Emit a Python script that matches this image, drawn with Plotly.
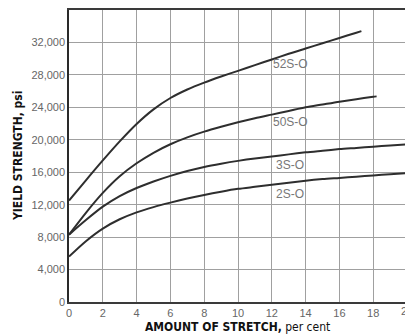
import plotly.graph_objects as go

# ---- data ----
stretch_52s = [0, 1, 2, 3, 4, 5, 6, 7, 8, 9, 10, 11, 12, 13, 14, 15, 16, 17, 17.3]
yield_52s = [12500, 15000, 17450, 19800, 21950, 23750, 25150, 26200, 27050, 27800,
             28500, 29200, 29900, 30600, 31250, 31900, 32550, 33200, 33400]

stretch_50s = [0, 1, 2, 3, 4, 5, 6, 7, 8, 9, 10, 11, 12, 13, 14, 15, 16, 17, 18, 18.2]
yield_50s = [8300, 11000, 13450, 15500, 17100, 18400, 19450, 20300, 21000, 21600,
             22150, 22650, 23100, 23550, 24000, 24350, 24700, 25000, 25300, 25350]

stretch_3s = [0, 1, 2, 3, 4, 5, 6, 7, 8, 9, 10, 11, 12, 13, 14, 15, 16, 17, 18, 19, 20]
yield_3s = [8300, 10100, 11750, 13050, 14050, 14850, 15550, 16150, 16650, 17050,
            17400, 17700, 17950, 18200, 18450, 18650, 18850, 19000, 19150, 19300, 19450]

stretch_2s = [0, 1, 2, 3, 4, 5, 6, 7, 8, 9, 10, 11, 12, 13, 14, 15, 16, 17, 18, 19, 20]
yield_2s = [5600, 7500, 9050, 10200, 11050, 11700, 12250, 12750, 13200, 13600,
            13950, 14200, 14450, 14700, 14950, 15150, 15300, 15450, 15600, 15750, 15900]

curve_names = ["52S-O", "50S-O", "3S-O", "2S-O"]
label_x = [13.1, 13.1, 13.1, 13.1]
label_y = [29400, 22150, 16900, 13350]

x_ticks = [0, 2, 4, 6, 8, 10, 12, 14, 16, 18, 20]
y_ticks = [0, 4000, 8000, 12000, 16000, 20000, 24000, 28000, 32000]

series = [(stretch_52s, yield_52s), (stretch_50s, yield_50s),
          (stretch_3s, yield_3s), (stretch_2s, yield_2s)]

TICK_FONT = dict(family="Liberation Sans, Arial, sans-serif", size=11, color="#666666")
TITLE_FAMILY = ("Noto Sans ExtraCondensed, Noto Sans Condensed, DejaVu Sans Condensed, "
                "Liberation Sans Narrow, Liberation Sans, sans-serif")

fig = go.Figure()
for (xs, ys), name in zip(series, curve_names):
    fig.add_trace(go.Scatter(
        x=xs, y=ys, mode="lines", name=name,
        line=dict(color="#2e2e2e", width=2, shape="spline", smoothing=0.8),
        showlegend=False, hoverinfo="skip"))

for name, lx, ly in zip(curve_names, label_x, label_y):
    fig.add_annotation(x=lx, y=ly, xref="x", yref="y", text=name, showarrow=False,
                       font=dict(family="Liberation Sans, Arial, sans-serif", size=12, color="#777777"))

X_MAX = 19.88
fig.update_layout(
    width=405, height=334,
    margin=dict(l=69, r=0, t=10, b=32),
    paper_bgcolor="white", plot_bgcolor="white",
    showlegend=False,
)
fig.update_xaxes(
    range=[0, X_MAX], tickvals=x_ticks, ticks="", automargin=False,
    showgrid=True, gridcolor="#a0a0a0", gridwidth=1, zeroline=False,
    showline=True, linecolor="#3a3a3a", linewidth=1.5, mirror=True,
    tickfont=TICK_FONT,
)
fig.update_yaxes(
    range=[0, 36000], tickvals=y_ticks, tickformat=",", ticks="", automargin=False,
    showgrid=True, gridcolor="#a0a0a0", gridwidth=1, zeroline=False,
    showline=True, linecolor="#2a2a2a", linewidth=1.5,
    tickfont=TICK_FONT,
)

# the "20" tick label that is clipped at the right edge
fig.add_annotation(x=20 / X_MAX, y=0, xref="paper", yref="paper", text="20",
                   showarrow=False, xanchor="center", yanchor="top", yshift=-1,
                   font=TICK_FONT)

# axis titles
fig.add_annotation(x=0.5, y=0, xref="paper", yref="paper",
                   text="<b>AMOUNT OF STRETCH,</b> per cent",
                   showarrow=False, xanchor="center", yanchor="top", yshift=-16,
                   font=dict(family=TITLE_FAMILY, size=12, color="#111111"))
fig.add_annotation(x=0, y=0.5, xref="paper", yref="paper",
                   text="<b>YIELD STRENGTH, psi</b>", textangle=-90,
                   showarrow=False, xanchor="center", yanchor="middle", xshift=-51,
                   font=dict(family=TITLE_FAMILY, size=12, color="#111111"))

fig.write_html("out.html", config={"displayModeBar": False},
               post_script="document.body.style.margin='0';")
